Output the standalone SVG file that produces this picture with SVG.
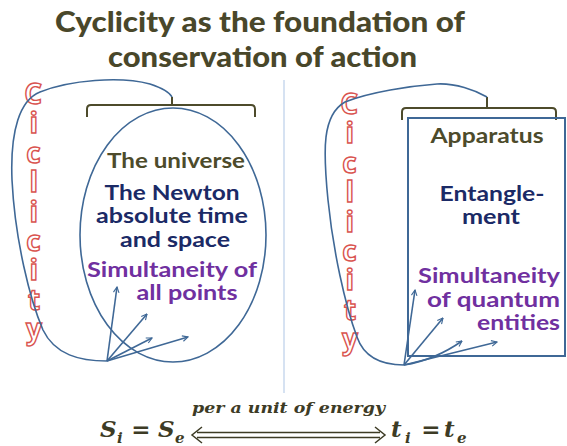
<svg xmlns="http://www.w3.org/2000/svg" width="567" height="446" viewBox="0 0 567 446">
<defs>
<marker id="ah" viewBox="0 0 10 10" refX="9" refY="5" markerWidth="7" markerHeight="7" orient="auto" markerUnits="userSpaceOnUse">
<path d="M1,1 L9,5 L1,9" fill="none" stroke="#3f6896" stroke-width="1.6"/>
</marker>
<style>
.title{font-family:Lato,"Open Sans",sans-serif;font-weight:900;font-size:29px;fill:#49472a;text-anchor:middle}
.t{font-family:Lato,"Open Sans",sans-serif;font-weight:700;font-size:21px}
.olive{fill:#4d4b2b}
.navy{fill:#1b2a66}
.purple{fill:#7030a0}
.cyc{font-family:"Open Sans",Lato,sans-serif;font-size:28px;font-weight:700;fill:#ffffff;stroke:#d9534f;stroke-width:1.4;writing-mode:vertical-rl;text-orientation:upright;letter-spacing:-8.6px}
.line{fill:none;stroke:#3f6896;stroke-width:1.6}
.arr{fill:none;stroke:#3f6896;stroke-width:1.6;marker-end:url(#ah)}
.brk{fill:none;stroke:#4d4b2b;stroke-width:2}
.math{font-family:"DejaVu Serif","Liberation Serif",serif;font-style:italic;font-weight:700;fill:#3d3b25}
</style>
</defs>
<rect width="567" height="446" fill="#ffffff"/>

<g id="title">
<text class="title" x="260" y="32" textLength="410" lengthAdjust="spacingAndGlyphs">Cyclicity as the foundation of</text>
<text class="title" x="262.5" y="67" textLength="309" lengthAdjust="spacingAndGlyphs">conservation of action</text>
</g>

<line id="divider" x1="284" y1="80" x2="284" y2="393" stroke="#c8d8ee" stroke-width="1.5"/>

<g id="left-cyclicity">
<text class="cyc" x="33" y="74">Ciclicity</text>
</g>

<g id="left-universe">
<path class="brk" d="M87,117 L87,109 Q87,105 91,105 L251,105 Q255,105 255,109 L255,117 M172,105 L172,97"/>
<ellipse class="line" cx="173" cy="235" rx="93" ry="127"/>
<text class="t olive" x="176" y="168" text-anchor="middle" textLength="138" lengthAdjust="spacingAndGlyphs">The universe</text>
<text class="t navy" x="172" y="200" text-anchor="middle" textLength="135" lengthAdjust="spacingAndGlyphs">The Newton</text>
<text class="t navy" x="172" y="223" text-anchor="middle" textLength="152" lengthAdjust="spacingAndGlyphs">absolute time</text>
<text class="t navy" x="175" y="247" text-anchor="middle" textLength="110" lengthAdjust="spacingAndGlyphs">and space</text>
<text class="t purple" x="172" y="277" text-anchor="middle" textLength="170" lengthAdjust="spacingAndGlyphs">Simultaneity of</text>
<text class="t purple" x="187" y="300" text-anchor="middle" textLength="101" lengthAdjust="spacingAndGlyphs">all points</text>
</g>

<g id="right-cyclicity">
<text class="cyc" x="349" y="84">Ciclicity</text>
</g>

<g id="right-apparatus">
<path class="brk" d="M402,120 L402,112 Q402,108 406,108 L552,108 Q556,108 556,112 L556,120 M487,108 L487,97"/>
<rect x="408" y="118" width="157" height="238" fill="none" stroke="#3f6896" stroke-width="2"/>
<text class="t olive" x="487" y="143" text-anchor="middle" textLength="113" lengthAdjust="spacingAndGlyphs">Apparatus</text>
<text class="t navy" x="492" y="201" text-anchor="middle" textLength="105" lengthAdjust="spacingAndGlyphs">Entangle-</text>
<text class="t navy" x="491" y="224" text-anchor="middle" textLength="58" lengthAdjust="spacingAndGlyphs">ment</text>
<text class="t purple" x="560" y="283" text-anchor="end" textLength="142" lengthAdjust="spacingAndGlyphs">Simultaneity</text>
<text class="t purple" x="560" y="307" text-anchor="end" textLength="133" lengthAdjust="spacingAndGlyphs">of quantum</text>
<text class="t purple" x="560" y="330" text-anchor="end" textLength="83" lengthAdjust="spacingAndGlyphs">entities</text>
</g>

<g id="connectors">
<path class="line" d="M107,361 C80,361 55,355 43,330 C30,300 15,240 12,180 C10,130 20,100 40,92 C70,80 120,76 150,84 C162,88 170,93 172,97"/>
<path class="arr" d="M107,361 L117,287"/>
<path class="arr" d="M107,361 L147,314"/>
<path class="arr" d="M107,361 L152,338"/>
<path class="arr" d="M107,361 L188,337"/>
<path class="line" d="M404,365 C385,365 365,360 357,337 C345,305 333,250 328,200 C323,150 322,115 345,102 C370,92 410,86 437,84 C455,83 475,90 487,97"/>
<path class="arr" d="M404,365 L415,290"/>
<path class="arr" d="M404,365 L443,318"/>
<path class="arr" d="M404,365 Q435,360 462,341"/>
<path class="arr" d="M404,365 L497,342"/>
</g>

<g id="formula">
<text class="math" x="100" y="437" font-size="23">S</text>
<text class="math" x="117" y="443" font-size="15">i</text>
<text class="math" x="141" y="437" font-size="23" text-anchor="middle" font-style="normal">=</text>
<text class="math" x="158" y="437" font-size="23">S</text>
<text class="math" x="175" y="443" font-size="15">e</text>
<text class="math" x="288.5" y="413" font-size="15" text-anchor="middle" textLength="193" lengthAdjust="spacingAndGlyphs">per a unit of energy</text>
<path d="M197,432.5 L380,432.5 M197,437.5 L380,437.5 M202,427 L192,435 L202,443 M375,427 L385,435 L375,443" fill="none" stroke="#3d3b25" stroke-width="1.5"/>
<text class="math" x="391" y="437" font-size="23">t</text>
<text class="math" x="405" y="443" font-size="15">i</text>
<text class="math" x="431" y="437" font-size="23" text-anchor="middle" font-style="normal">=</text>
<text class="math" x="444" y="437" font-size="23">t</text>
<text class="math" x="457" y="443" font-size="15">e</text>
</g>
</svg>
